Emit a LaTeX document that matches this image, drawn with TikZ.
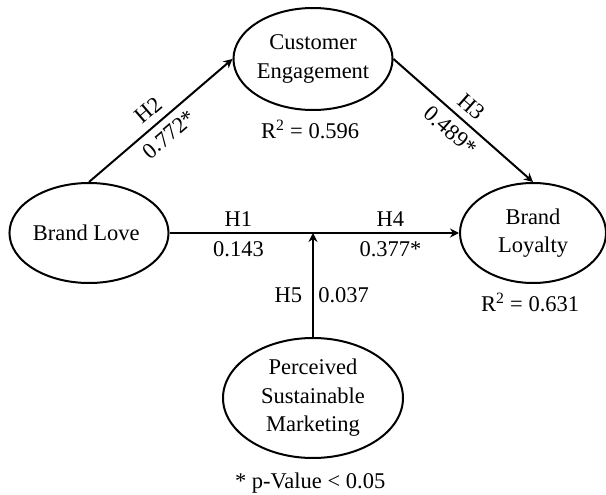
\documentclass[tikz,border=0pt]{standalone}
\usepackage{fontspec}
\setmainfont{Liberation Serif}
\usepackage{tikz}
\usetikzlibrary{positioning,shapes.geometric,arrows.meta}

\begin{document}
\begin{tikzpicture}[x = 1pt, y = -1pt,
    every node/.style = { align = center, font = \fontsize{22.5}{28.5}\selectfont },
    construct/.style = { draw, shape = ellipse, line width = 2pt, inner sep = 0pt },
    path/.style = { line width = 2pt, -{Stealth[length = 9pt, width = 9pt, inset = 3pt]} }]
      \useasboundingbox (0,0) rectangle (606,495);
      % constructs
      \node [construct, minimum width = 154pt, minimum height = 102pt] (engage) at (313,59) { Customer \\ Engagement };
      \node [construct, minimum width = 156pt, minimum height = 100pt] (love) at (89,233) { Brand Love };
      \node [construct, minimum width = 146pt, minimum height = 100pt] (loyal) at (533,233) { Brand \\ Loyalty };
      \node [construct, minimum width = 180pt, minimum height = 120pt] (psm) at (313,398) { Perceived \\ Sustainable \\ Marketing };
      \coordinate (mod) at (psm.north |- love.east);

      \node [below = 6pt of engage] (r2engage) { R\textsuperscript{2} = 0.596 };
      \node [below = 6pt of loyal] (r2loyal) { R\textsuperscript{2} = 0.631 };
      \node [below = 10pt of psm] (note) { * p-Value < 0.05 };

      % paths
      \draw [path] (love.north) -- node [sloped, above = 4pt] { H2 } node [sloped, below = 4pt] { 0.772* } (engage.west);
      \draw [path] (engage.east) -- node [sloped, above = 4pt] { H3 } node [sloped, below = 4pt] { 0.489* } (loyal.north);
      \draw [path] (love.east) -- node [above = 2pt] { H1 } node [below = 4pt] { 0.143 } (mod)
        -- node [pos = .55, above = 2pt] { H4 } node [pos = .55, below = 4pt] { 0.377* } (loyal.west);
      \draw [path] (psm.north) -- node [pos = .4, left = 1pt] { H5 } node [pos = .4, right = 1pt] { 0.037 } (mod);
    \end{tikzpicture}
\end{document}
